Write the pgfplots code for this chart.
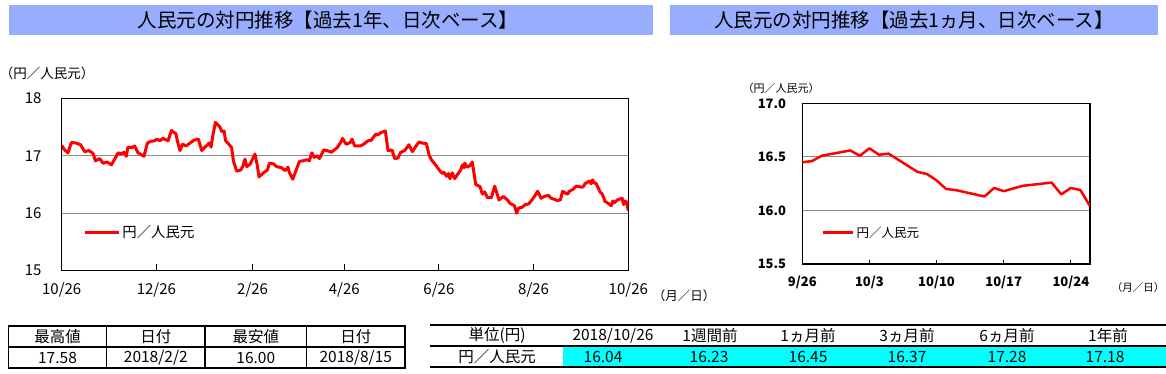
\documentclass[border=0pt]{standalone}
\usepackage{fontspec}
\setmainfont{Noto Sans CJK JP}
\usepackage{pgfplots}
\pgfplotsset{compat=1.18}
\definecolor{banner}{RGB}{153,173,255}
\definecolor{cyanfill}{RGB}{0,255,255}
\definecolor{gridgray}{RGB}{140,140,140}
\newcommand{\fs}[1]{\fontsize{#1}{#1}\selectfont}
\pgfplotsset{mystyle/.style={scale only axis, anchor=south west,
  axis line style={black,line width=1.3pt}, tick align=inside,
  xtick pos=bottom, ytick pos=left, ytick style={draw=none},
  xtick style={black,line width=1pt},
  ymajorgrids, grid style={gridgray,line width=1pt},
  /pgf/number format/assume math mode=true,
  legend style={draw=none, fill=none, inner sep=0pt, anchor=west},
  legend cell align=left}}
\begin{document}
\begin{tikzpicture}
\useasboundingbox (0pt,0pt) rectangle (1166pt,-374pt);
% banners
\fill[banner] (8.5pt,-5pt) rectangle (653pt,-35pt);
\node[font=\fs{19.5}] at (328pt,-20pt) {人民元の対円推移【過去1年、日次ベース】};
\fill[banner] (670pt,-5pt) rectangle (1158pt,-35pt);
\node[font=\fs{19.5}] at (914pt,-20pt) {人民元の対円推移【過去1ヵ月、日次ベース】};
% unit labels
\node[font=\fs{13.5}] at (47pt,-73pt) {（円／人民元）};
\node[font=\fs{12.5}] at (684pt,-296pt) {（月／日）};
\node[font=\fs{11}] at (781pt,-88pt) {（円／人民元）};
\node[font=\fs{10.5}] at (1138pt,-288pt) {（月／日）};

\begin{axis}[mystyle, at={(61.7pt,-270.5pt)}, width=566.6pt, height=172.2pt,
  xmin=0, xmax=365, ymin=15, ymax=18,
  xtick={0,61,123,182,243,304,365},
  xticklabels={10/26,12/26,2/26,4/26,6/26,8/26,10/26},
  ytick={15,16,17,18}, yticklabels={15,16,17,18},
  major tick length=7pt,
  xticklabel style={font=\fs{15}, anchor=center, inner sep=0pt, yshift=-19.5pt},
  yticklabel style={font=\fs{15}, anchor=east, inner sep=0pt, xshift=-20pt},
  legend style={at={(0.038,0.222)}, font=\fs{14.4}},
  legend image code/.code={\draw[#1, line width=3pt] (0pt,0pt) -- (34pt,0pt);}]
\addplot[red, line width=3pt, line join=round] coordinates {
(0,17.18)(1.9,17.10)(4.1,17.05)(6.2,17.23)(9.4,17.22)(12.2,17.19)(14.8,17.07)(17.4,17.09)
(20.2,17.04)(21.7,16.91)(24.5,16.95)(26.6,16.87)(29.4,16.89)(32.0,16.84)(34.1,16.94)
(36.3,17.05)(38.4,17.03)(40.1,17.06)(41.6,16.99)(42.7,17.15)(45.3,17.14)(47.0,17.17)
(49.2,17.05)(53.0,16.99)(55.2,17.22)(57.3,17.25)(59.9,17.26)(61.4,17.29)(63.1,17.26)
(65.3,17.30)(68.5,17.26)(70.7,17.44)(73.6,17.38)(74.5,17.26)(76.2,17.09)(77.9,17.20)
(80.1,17.17)(82.7,17.22)(85.2,17.27)(88.0,17.29)(90.2,17.09)(92.3,17.15)(95.1,17.22)
(96.2,17.15)(97.3,17.34)(99,17.58)(102.0,17.50)(103.1,17.42)(104.6,17.43)(105.6,17.26)
(108.0,17.19)(109.5,17.14)(110.6,16.91)(112.7,16.73)(115.3,16.75)(116.6,16.81)
(118.1,16.94)(119.2,16.81)(121.3,16.85)(124.5,17.03)(126.0,16.83)(127.1,16.63)
(129.9,16.70)(132.5,16.75)(133.8,16.87)(136.3,16.86)(138.5,16.81)(141.7,16.79)
(143.9,16.74)(145.8,16.80)(146.6,16.71)(148.8,16.59)(150.9,16.74)(153.1,16.90)
(155.2,16.91)(158.0,16.93)(159.5,16.91)(161.2,17.05)(162.7,16.97)(164.5,17.00)
(166.0,16.95)(168.8,17.10)(170.9,17.09)(173.7,17.06)(177.4,17.14)(179.5,17.22)
(181.0,17.30)(183.2,17.20)(185.9,17.23)(187.0,17.29)(188.7,17.17)(192.4,17.17)
(194.5,17.20)(197.3,17.26)(199.5,17.27)(201.0,17.33)(202.5,17.38)(203.8,17.36)
(205.3,17.40)(208.5,17.43)(210.2,17.09)(212.8,17.10)(214.5,16.95)(216.6,16.96)
(218.4,17.06)(220.9,17.09)(223.7,17.19)(225.9,17.07)(228.0,17.16)(230.2,17.24)
(232.3,17.22)(234.9,17.21)(236.6,17.02)(238.1,16.93)(240.9,16.84)(243.5,16.74)
(245.2,16.69)(246.3,16.71)(248.0,16.64)(249.1,16.69)(250.1,16.60)(251.6,16.70)
(253.2,16.60)(254.9,16.67)(257.0,16.75)(258.1,16.84)(259.2,16.79)(259.6,16.87)
(261.3,16.80)(263.0,16.83)(264.5,16.89)(266.7,16.50)(269.5,16.46)(271.0,16.33)
(272.5,16.37)(274.2,16.27)(276.8,16.27)(278.9,16.47)(281.7,16.23)(284.5,16.29)
(287.5,16.22)(288.8,16.17)(291.6,16.13)(293.1,16.00)(294.4,16.09)(296.5,16.10)
(298.7,16.15)(300.8,16.16)(303.8,16.26)(306.6,16.38)(308.8,16.26)(310.9,16.29)
(313.5,16.31)(315.2,16.26)(317.4,16.24)(319.1,16.22)(321.2,16.23)(322.7,16.38)
(324.4,16.35)(325.9,16.33)(327.0,16.38)(329.2,16.41)(331.3,16.47)(333.5,16.46)
(335,16.45)(336,16.46)(337,16.51)(340,16.56)(341,16.51)(342,16.58)(343,16.52)
(344,16.53)(347,16.36)(348,16.34)(349,16.28)(350,16.20)(351,16.19)(354,16.13)
(355,16.21)(356,16.18)(358,16.23)(361,16.26)(362,16.15)(363,16.21)(364,16.19)(365,16.04)
};
\addlegendentry{円／人民元}
\end{axis}

\begin{axis}[mystyle, at={(802.3pt,-264pt)}, width=287.7pt, height=160.7pt,
  xmin=0, xmax=30, ymin=15.5, ymax=17,
  xtick={0,7,14,21,28}, xticklabels={9/26,10/3,10/10,10/17,10/24},
  ytick={15.5,16,16.5,17}, yticklabels={15.5,16.0,16.5,17.0},
  major tick length=4pt,
  xticklabel style={font=\fs{13}\bfseries, anchor=center, inner sep=0pt, yshift=-18.7pt},
  yticklabel style={font=\fs{13}\bfseries, anchor=east, inner sep=0pt, xshift=-16pt},
  legend style={at={(0.068,0.195)}, font=\fs{12.5}},
  legend image code/.code={\draw[#1, line width=2.5pt] (0pt,0pt) -- (30pt,0pt);}]
\addplot[red, line width=2.5pt, line join=round] coordinates {
(0,16.45)(1,16.46)(2,16.51)(5,16.56)(6,16.51)(7,16.58)(8,16.52)(9,16.53)
(12,16.36)(13,16.34)(14,16.28)(15,16.20)(16,16.19)(19,16.13)(20,16.21)(21,16.18)
(23,16.23)(26,16.26)(27,16.15)(28,16.21)(29,16.19)(30,16.04)
};
\addlegendentry{円／人民元}
\end{axis}

% left table
\begin{scope}[line width=1.3pt]
\draw (8.3pt,-326pt) rectangle (405pt,-368pt);
\draw (8.3pt,-347pt) -- (405pt,-347pt);
\foreach \x in {106.7,205,306.7} \draw (\x pt,-326pt) -- (\x pt,-368pt);
\end{scope}
\begin{scope}[font=\fs{15.5}]
\node at (57.5pt,-336.5pt) {最高値};
\node at (155.8pt,-336.5pt) {日付};
\node at (255.8pt,-336.5pt) {最安値};
\node at (355.8pt,-336.5pt) {日付};
\node at (57.5pt,-357.5pt) {17.58};
\node at (155.8pt,-357.5pt) {2018/2/2};
\node at (255.8pt,-357.5pt) {16.00};
\node at (355.8pt,-357.5pt) {2018/8/15};
\end{scope}

% right table
\fill[cyanfill] (563pt,-346pt) rectangle (1166pt,-367pt);
\begin{scope}[line width=1.3pt]
\draw (430pt,-325pt) -- (1166pt,-325pt);
\draw (430pt,-346pt) -- (1166pt,-346pt);
\draw (430pt,-367pt) -- (1166pt,-367pt);
\end{scope}
\begin{scope}[font=\fs{15.5}]
\node at (497pt,-335.5pt) {単位(円)};
\node at (613pt,-335.5pt) {2018/10/26};
\node at (710pt,-335.5pt) {1週間前};
\node at (808pt,-335.5pt) {1ヵ月前};
\node at (907pt,-335.5pt) {3ヵ月前};
\node at (1007pt,-335.5pt) {6ヵ月前};
\node at (1108pt,-335.5pt) {1年前};
\node at (497pt,-356.5pt) {円／人民元};
\node at (603pt,-356.5pt) {16.04};
\node at (709pt,-356.5pt) {16.23};
\node at (808pt,-356.5pt) {16.45};
\node at (907pt,-356.5pt) {16.37};
\node at (1007pt,-356.5pt) {17.28};
\node at (1105pt,-356.5pt) {17.18};
\end{scope}
\end{tikzpicture}
\end{document}
